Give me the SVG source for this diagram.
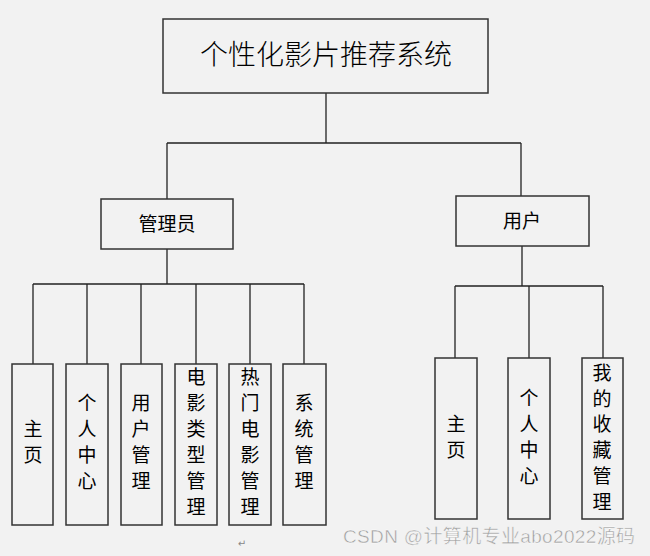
<svg xmlns="http://www.w3.org/2000/svg" width="650" height="556" viewBox="0 0 650 556">
<style>
.box{fill:#f2f2f2;stroke:#333;stroke-width:1.5}
.ln{stroke:#222;stroke-width:1.3;fill:none}
.t{font-family:"Noto Sans CJK SC","Liberation Sans",sans-serif;fill:#000;text-anchor:middle}
.v{font-size:19px}
.h{font-size:19px}
</style>
<rect width="650" height="556" fill="#f2f2f2"/>
<g id="connectors" class="ln">
<path d="M326 93V143M167 143H521M167 143V199M521 143V196"/>
<path d="M167 249V284M33 284H304M33 284V364M87 284V364M141 284V364M196 284V364M250 284V364M304 284V364"/>
<path d="M522 246V286M455 286H603M455 286V358M529 286V358M603 286V358"/>
</g>
<g id="root"><rect class="box" x="163" y="19" width="325" height="74"/>
<text class="t" x="326" y="65" font-size="28" font-weight="300" fill="#222">个性化影片推荐系统</text></g>
<g id="admin"><rect class="box" x="101" y="199" width="132" height="50"/>
<text class="t h" x="167" y="231">管理员</text></g>
<g id="user"><rect class="box" x="456" y="196" width="133" height="50"/>
<text class="t h" x="522" y="228">用户</text></g>
<g id="a1"><rect class="box" x="12" y="364" width="41" height="161"/>
<text class="t v"><tspan x="33" y="436">主</tspan><tspan x="33" y="462">页</tspan></text></g>
<g id="a2"><rect class="box" x="66" y="364" width="42" height="161"/>
<text class="t v"><tspan x="87" y="410">个</tspan><tspan x="87" y="436">人</tspan><tspan x="87" y="462">中</tspan><tspan x="87" y="488">心</tspan></text></g>
<g id="a3"><rect class="box" x="121" y="364" width="41" height="161"/>
<text class="t v"><tspan x="141" y="410">用</tspan><tspan x="141" y="436">户</tspan><tspan x="141" y="462">管</tspan><tspan x="141" y="488">理</tspan></text></g>
<g id="a4"><rect class="box" x="175" y="364" width="42" height="161"/>
<text class="t v"><tspan x="196" y="384">电</tspan><tspan x="196" y="410">影</tspan><tspan x="196" y="436">类</tspan><tspan x="196" y="462">型</tspan><tspan x="196" y="488">管</tspan><tspan x="196" y="514">理</tspan></text></g>
<g id="a5"><rect class="box" x="229" y="364" width="42" height="161"/>
<text class="t v"><tspan x="250" y="384">热</tspan><tspan x="250" y="410">门</tspan><tspan x="250" y="436">电</tspan><tspan x="250" y="462">影</tspan><tspan x="250" y="488">管</tspan><tspan x="250" y="514">理</tspan></text></g>
<g id="a6"><rect class="box" x="283" y="364" width="43" height="161"/>
<text class="t v"><tspan x="304" y="410">系</tspan><tspan x="304" y="436">统</tspan><tspan x="304" y="462">管</tspan><tspan x="304" y="488">理</tspan></text></g>
<g id="u1"><rect class="box" x="435" y="358" width="42" height="161"/>
<text class="t v"><tspan x="456" y="431">主</tspan><tspan x="456" y="457">页</tspan></text></g>
<g id="u2"><rect class="box" x="508" y="358" width="42" height="161"/>
<text class="t v"><tspan x="529" y="405">个</tspan><tspan x="529" y="431">人</tspan><tspan x="529" y="457">中</tspan><tspan x="529" y="483">心</tspan></text></g>
<g id="u3"><rect class="box" x="582" y="358" width="41" height="161"/>
<text class="t v"><tspan x="602" y="380">我</tspan><tspan x="602" y="406">的</tspan><tspan x="602" y="431">收</tspan><tspan x="602" y="457">藏</tspan><tspan x="602" y="483">管</tspan><tspan x="602" y="509">理</tspan></text></g>
<text x="242" y="547" font-family="DejaVu Sans,sans-serif" font-size="10" fill="#888" text-anchor="middle">↵</text>
<text x="343" y="543" font-family="Liberation Sans,Noto Sans CJK SC,sans-serif" font-size="19" fill="#a0a0a0" stroke="#fff" stroke-width="0.4" textLength="292">CSDN @计算机专业abo2022源码</text>
</svg>
